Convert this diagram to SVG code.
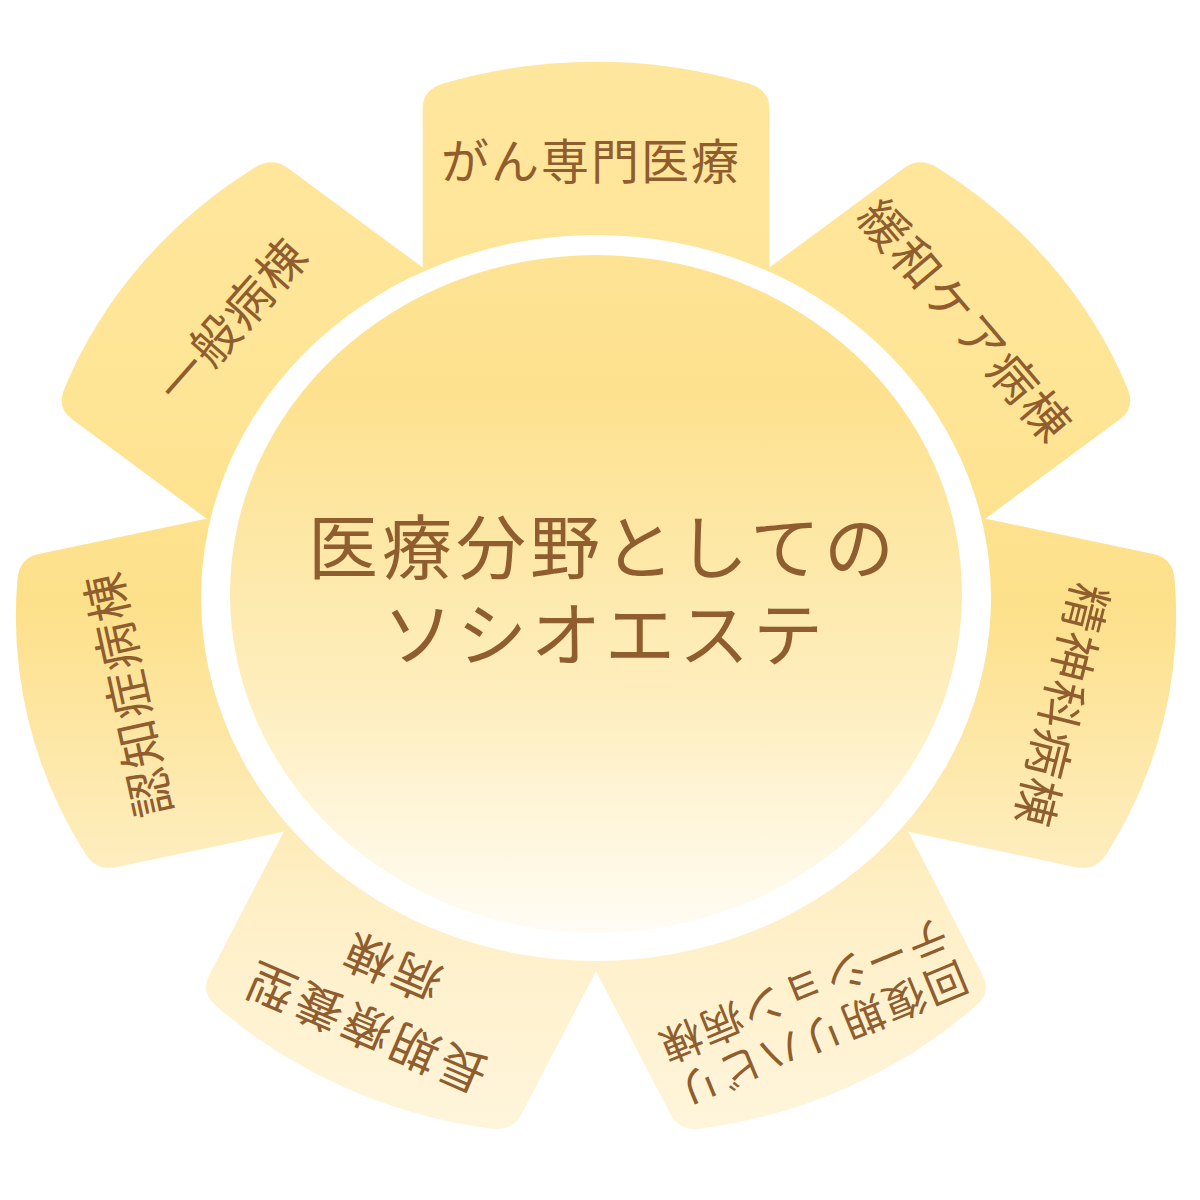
<svg xmlns="http://www.w3.org/2000/svg" width="1200" height="1200" viewBox="0 0 1200 1200">
  <style>
    .petal-label { font-family: "Liberation Sans", "Noto Sans CJK JP", sans-serif; fill: #8F5D2E; text-anchor: middle; }
    .core-label { font-family: "Liberation Sans", "Noto Sans CJK JP", sans-serif; fill: #8F5D2E; text-anchor: middle; font-size: 70px; letter-spacing: 4px; }
  </style>
  <defs>
    <linearGradient id="petalGrad" gradientUnits="userSpaceOnUse" x1="0" y1="60" x2="0" y2="1140">
      <stop offset="0" stop-color="#FEE69D"/>
      <stop offset="0.3" stop-color="#FEE596"/>
      <stop offset="0.5" stop-color="#FDE08A"/>
      <stop offset="0.78" stop-color="#FEEFC6"/>
      <stop offset="1" stop-color="#FEF5DC"/>
    </linearGradient>
    <linearGradient id="pg0" href="#petalGrad" gradientTransform="rotate(0) scale(0.917431 0.990099) translate(-596 -601)"/>
    <linearGradient id="pg1" href="#petalGrad" gradientTransform="rotate(-51.4286) scale(0.917431 0.990099) translate(-596 -601)"/>
    <linearGradient id="pg2" href="#petalGrad" gradientTransform="rotate(-102.8571) scale(0.917431 0.990099) translate(-596 -601)"/>
    <linearGradient id="pg3" href="#petalGrad" gradientTransform="rotate(-154.2857) scale(0.917431 0.990099) translate(-596 -601)"/>
    <linearGradient id="pg4" href="#petalGrad" gradientTransform="rotate(-205.7143) scale(0.917431 0.990099) translate(-596 -601)"/>
    <linearGradient id="pg5" href="#petalGrad" gradientTransform="rotate(-257.1429) scale(0.917431 0.990099) translate(-596 -601)"/>
    <linearGradient id="pg6" href="#petalGrad" gradientTransform="rotate(-308.5714) scale(0.917431 0.990099) translate(-596 -601)"/>
    <linearGradient id="coreGrad" gradientUnits="userSpaceOnUse" x1="0" y1="255" x2="0" y2="933">
      <stop offset="0" stop-color="#FEE395"/>
      <stop offset="0.2" stop-color="#FDE18E"/>
      <stop offset="0.65" stop-color="#FEEEBE"/>
      <stop offset="1" stop-color="#FFFCF4"/>
    </linearGradient>
    <path id="petalShape" d="M -159 -200 L -159 -488 Q -159 -506.4 -140 -512.4 A 465.4 465.4 0 0 1 140 -512.4 Q 159 -506.4 159 -488 L 159 -200 Z"/>
  </defs>

  <rect x="0" y="0" width="1200" height="1200" fill="#FFFFFF"/>

  <g id="petal-gan">
    <use href="#petalShape" fill="url(#pg0)" transform="translate(596 601) scale(1.09 1.01) rotate(0)"/>
    <text class="petal-label" font-size="48" letter-spacing="2" x="591" y="179">がん専門医療</text>
  </g>

  <g id="petal-kanwa">
    <use href="#petalShape" fill="url(#pg1)" transform="translate(596 601) scale(1.09 1.01) rotate(51.4286)"/>
    <text class="petal-label" font-size="48" letter-spacing="2" transform="translate(965 320) rotate(49.8)" x="1" y="18">緩和ケア病棟</text>
  </g>

  <g id="petal-seishin">
    <use href="#petalShape" fill="url(#pg2)" transform="translate(596 601) scale(1.09 1.01) rotate(102.8571)"/>
    <text class="petal-label" font-size="48" letter-spacing="2" transform="translate(1062 705) rotate(104)" x="1" y="18">精神科病棟</text>
  </g>

  <g id="petal-kaifuku">
    <use href="#petalShape" fill="url(#pg3)" transform="translate(596 601) scale(1.09 1.01) rotate(154.2857)"/>
    <text class="petal-label" font-size="42" letter-spacing="2.5" transform="translate(813.5 1012.5) rotate(157.6)"><tspan x="1" y="-7.7">回復期リハビリ</tspan><tspan x="1" y="39.7">テーション病棟</tspan></text>
  </g>

  <g id="petal-choki">
    <use href="#petalShape" fill="url(#pg4)" transform="translate(596 601) scale(1.09 1.01) rotate(205.7143)"/>
    <text class="petal-label" font-size="48" letter-spacing="4" transform="translate(380 998.3) rotate(203.3)"><tspan x="2" y="-14.6">長期療養型</tspan><tspan x="2" y="51">病棟</tspan></text>
  </g>

  <g id="petal-ninchi">
    <use href="#petalShape" fill="url(#pg5)" transform="translate(596 601) scale(1.09 1.01) rotate(257.1429)"/>
    <text class="petal-label" font-size="48" letter-spacing="2" transform="translate(128.3 695) rotate(257.6)" x="1" y="18">認知症病棟</text>
  </g>

  <g id="petal-ippan">
    <use href="#petalShape" fill="url(#pg6)" transform="translate(596 601) scale(1.09 1.01) rotate(308.5714)"/>
    <text class="petal-label" font-size="48" letter-spacing="2" transform="translate(231.3 320.8) rotate(-48.7)" x="1" y="18">一般病棟</text>
  </g>

  <g id="ring">
    <ellipse cx="596" cy="598" rx="395" ry="363" fill="#FFFFFF"/>
  </g>

  <g id="core">
    <ellipse cx="596" cy="594" rx="366" ry="339" fill="url(#coreGrad)"/>
    <text class="core-label"><tspan x="603" y="574">医療分野としての</tspan><tspan x="605" y="661">ソシオエステ</tspan></text>
  </g>
</svg>
